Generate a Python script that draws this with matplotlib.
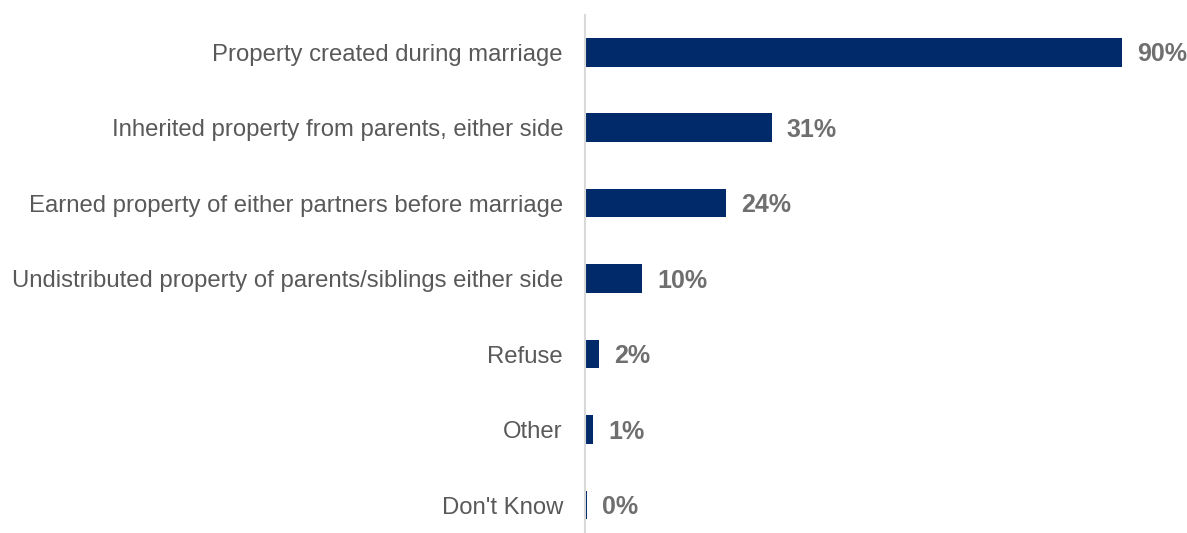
import matplotlib
matplotlib.use("Agg")
import matplotlib.pyplot as plt

categories = [
    "Property created during marriage",
    "Inherited property from parents, either side",
    "Earned property of either partners before marriage",
    "Undistributed property of parents/siblings either side",
    "Refuse",
    "Other",
    "Don't Know",
]
values = [90, 31.3, 23.7, 9.6, 2.35, 1.4, 0.4]
value_labels = ["90%", "31%", "24%", "10%", "2%", "1%", "0%"]

plt.rcParams['font.family'] = ['Liberation Sans', 'DejaVu Sans']

W, H = 1187, 533
fig = plt.figure(figsize=(W / 100, H / 100), dpi=100)
ax = fig.add_axes([585 / W, 0, 597 / W, 518 / H])

y = list(range(len(categories)))
ax.barh(y, values, height=0.378, color="#002A6A")
ax.set_xlim(0, 100)
ax.set_ylim(6.371, -0.494)

for yi, v, lab in zip(y, values, value_labels):
    ax.annotate(lab, xy=(v, yi), xytext=(15 * 72 / 100, -2 * 72 / 100), textcoords="offset points",
                va="center", ha="left", fontsize=18, fontweight="bold", color="#6F6F6F")

ax.set_yticks(y)
ax.set_yticklabels(categories, fontsize=17.2, color="#595959")
ax.tick_params(axis="y", length=0, pad=22 * 72 / 100)
ax.set_xticks([])
for s in ["top", "right", "bottom"]:
    ax.spines[s].set_visible(False)
ax.spines["left"].set_color("#D9D9D9")
ax.spines["left"].set_linewidth(1.5)

fig.savefig("out.png", dpi=100)
